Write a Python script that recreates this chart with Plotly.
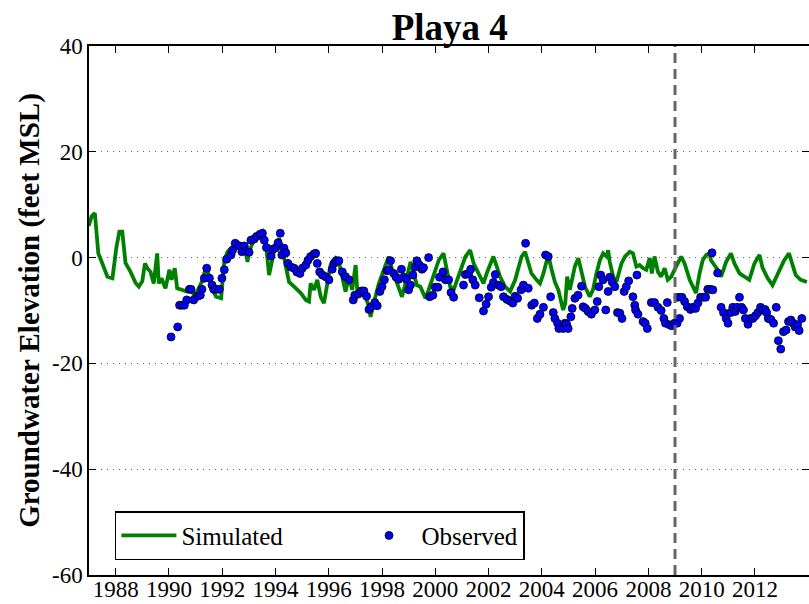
import plotly.graph_objects as go

# Simulated groundwater elevation (decimal year, feet MSL)
SIM_YEAR = [
    1986.99, 1987.10, 1987.22, 1987.35, 1987.50, 1987.69, 1987.88, 1988.03, 1988.14, 1988.25,
    1988.37, 1988.56, 1988.75, 1988.87, 1989.00, 1989.10, 1989.19, 1989.31, 1989.43, 1989.56,
    1989.62, 1989.72, 1989.87, 1990.02, 1990.10, 1990.22, 1990.31, 1990.50, 1990.68, 1990.87,
    1990.95, 1991.05, 1991.27, 1991.39, 1991.52, 1991.64, 1991.77, 1991.96, 1992.01, 1992.08,
    1992.20, 1992.33, 1992.52, 1992.64, 1992.83, 1992.95, 1993.01, 1993.14, 1993.27, 1993.39,
    1993.51, 1993.64, 1993.76, 1993.89, 1994.01, 1994.14, 1994.26, 1994.39, 1994.51, 1994.70,
    1994.95, 1995.14, 1995.26, 1995.32, 1995.45, 1995.57, 1995.70, 1995.82, 1995.95, 1996.07,
    1996.16, 1996.26, 1996.38, 1996.51, 1996.63, 1996.76, 1996.88, 1997.01, 1997.07, 1997.20,
    1997.38, 1997.51, 1997.57, 1997.69, 1997.88, 1998.07, 1998.25, 1998.38, 1998.51, 1998.63,
    1998.75, 1998.94, 1999.07, 1999.19, 1999.31, 1999.44, 1999.63, 1999.75, 1999.94, 2000.13,
    2000.31, 2000.44, 2000.56, 2000.69, 2000.87, 2001.13, 2001.31, 2001.44, 2001.56, 2001.69,
    2001.81, 2001.93, 2002.06, 2002.18, 2002.31, 2002.43, 2002.62, 2002.81, 2003.00, 2003.12,
    2003.24, 2003.37, 2003.49, 2003.61, 2003.80, 2003.93, 2004.06, 2004.18, 2004.24, 2004.37,
    2004.49, 2004.62, 2004.80, 2004.88, 2004.95, 2005.05, 2005.24, 2005.37, 2005.49, 2005.62,
    2005.80, 2005.92, 2006.05, 2006.18, 2006.30, 2006.43, 2006.49, 2006.55, 2006.68, 2006.80,
    2006.99, 2007.12, 2007.30, 2007.42, 2007.55, 2007.67, 2007.80, 2007.92, 2008.05, 2008.13,
    2008.23, 2008.36, 2008.48, 2008.61, 2008.73, 2008.86, 2009.04, 2009.23, 2009.36, 2009.55,
    2009.73, 2009.79, 2009.92, 2010.04, 2010.17, 2010.29, 2010.35, 2010.48, 2010.60, 2010.73,
    2010.92, 2011.10, 2011.23, 2011.42, 2011.60, 2011.79, 2011.98, 2012.17, 2012.29, 2012.48,
    2012.66, 2012.85, 2013.10, 2013.28, 2013.41, 2013.53, 2013.72, 2013.95,
]
SIM_VALUE = [
    6.0, 7.8, 8.4, 0.8, -1.1, -3.6, -3.9, 2.0, 4.9, 4.9,
    -1.0, -2.7, -4.8, -5.5, -4.5, -1.1, -2.0, -2.7, -4.9, 0.8,
    -4.9, -3.9, -5.8, -2.3, -4.2, -2.0, -5.8, -6.1, -6.4, -6.1,
    -7.4, -6.5, -4.2, -1.7, -3.6, -6.1, -7.4, -7.7, -3.6, -0.5,
    1.1, 1.8, 2.7, 2.7, 2.4, -0.8, 1.1, 2.7, 3.6, 4.3,
    4.9, 2.7, -3.3, 0.2, 2.7, 3.6, 1.8, -1.7, -4.6, -5.5,
    -6.7, -8.0, -8.3, -4.9, -6.1, -4.2, -7.4, -8.6, -4.9, -1.4,
    -0.6, -0.1, -0.8, -4.2, -6.4, -3.6, -6.1, -1.4, -6.1, -6.7,
    -7.4, -9.3, -11.2, -8.6, -4.9, -2.3, 0.2, -2.3, -4.2, -6.1,
    -7.4, -3.6, -0.8, -3.0, -5.2, -5.5, -7.7, -6.1, -3.0, -0.5,
    0.8, -3.0, -5.5, -6.1, -3.6, 0.2, 1.4, -1.1, -2.3, -3.6,
    -4.9, -3.0, -1.1, 0.2, -1.7, -3.6, -5.5, -6.4, -4.2, -1.7,
    0.2, 1.1, -1.1, -3.0, -4.2, -4.9, -3.0, -0.5, 0.5, -2.3,
    -4.6, -6.1, -9.9, -8.6, -3.6, -6.1, -1.7, -0.1, -3.0, -5.5,
    -7.4, -6.1, -3.0, -0.5, 0.8, 0.2, 1.4, -0.8, -3.6, -4.6,
    -1.1, 0.2, 1.1, 0.8, -1.7, -1.4, -2.0, -2.3, -0.1, -3.0,
    0.2, -2.7, -3.6, -2.0, -4.2, -3.6, -1.7, 0.2, -1.1, -4.2,
    -6.1, -6.7, -3.0, -0.5, 0.5, 0.8, -0.5, -1.4, -2.3, -3.6,
    -0.8, 0.8, -1.1, -3.0, -3.6, -4.2, -1.1, 0.5, -2.0, -3.9,
    -5.2, -3.0, -0.5, 0.8, -1.1, -3.3, -4.2, -4.6,
]

# Observed groundwater elevation (decimal year, feet MSL)
OBS_YEAR = [
    1990.08, 1990.33, 1990.40, 1990.48, 1990.58, 1990.67, 1990.77, 1990.83, 1990.93, 1991.08,
    1991.18, 1991.24, 1991.33, 1991.42, 1991.52, 1991.62, 1991.68, 1991.77, 1991.89, 1991.99,
    1992.08, 1992.17, 1992.33, 1992.39, 1992.49, 1992.64, 1992.74, 1992.83, 1992.91, 1993.01,
    1993.08, 1993.20, 1993.29, 1993.42, 1993.51, 1993.58, 1993.66, 1993.83, 1993.89, 1994.01,
    1994.10, 1994.18, 1994.24, 1994.32, 1994.39, 1994.47, 1994.58, 1994.70, 1994.80, 1994.92,
    1995.01, 1995.14, 1995.22, 1995.32, 1995.45, 1995.51, 1995.57, 1995.66, 1995.76, 1995.88,
    1996.01, 1996.13, 1996.20, 1996.28, 1996.38, 1996.51, 1996.63, 1996.76, 1996.92, 1996.98,
    1997.11, 1997.23, 1997.32, 1997.42, 1997.51, 1997.59, 1997.73, 1997.82, 1997.92, 1998.00,
    1998.09, 1998.19, 1998.25, 1998.32, 1998.44, 1998.53, 1998.63, 1998.73, 1998.82, 1998.92,
    1999.00, 1999.07, 1999.16, 1999.25, 1999.31, 1999.40, 1999.50, 1999.56, 1999.75, 1999.79,
    1999.91, 2000.00, 2000.10, 2000.16, 2000.29, 2000.38, 2000.50, 2000.59, 2000.69, 2001.06,
    2001.13, 2001.25, 2001.33, 2001.41, 2001.50, 2001.65, 2001.81, 2001.91, 2002.00, 2002.10,
    2002.18, 2002.25, 2002.37, 2002.47, 2002.56, 2002.69, 2002.81, 2002.91, 2003.00, 2003.09,
    2003.22, 2003.31, 2003.39, 2003.49, 2003.62, 2003.72, 2003.83, 2003.93, 2004.06, 2004.14,
    2004.24, 2004.33, 2004.43, 2004.49, 2004.59, 2004.64, 2004.80, 2004.87, 2004.93, 2004.99,
    2005.09, 2005.14, 2005.24, 2005.36, 2005.49, 2005.55, 2005.64, 2005.74, 2005.86, 2005.99,
    2006.08, 2006.14, 2006.21, 2006.30, 2006.40, 2006.49, 2006.55, 2006.64, 2006.74, 2006.84,
    2006.93, 2007.01, 2007.09, 2007.17, 2007.26, 2007.42, 2007.49, 2007.52, 2007.57, 2007.61,
    2007.80, 2007.88, 2007.96, 2008.11, 2008.23, 2008.36, 2008.48, 2008.58, 2008.64, 2008.71,
    2008.79, 2008.88, 2008.98, 2009.08, 2009.11, 2009.17, 2009.26, 2009.36, 2009.46, 2009.58,
    2009.67, 2009.77, 2009.86, 2009.96, 2010.06, 2010.15, 2010.23, 2010.32, 2010.39, 2010.42,
    2010.60, 2010.73, 2010.82, 2010.92, 2010.99, 2011.09, 2011.17, 2011.26, 2011.33, 2011.42,
    2011.50, 2011.57, 2011.64, 2011.74, 2011.84, 2011.92, 2012.02, 2012.11, 2012.21, 2012.29,
    2012.38, 2012.44, 2012.50, 2012.60, 2012.70, 2012.80, 2012.88, 2012.97, 2013.07, 2013.17,
    2013.26, 2013.35, 2013.44, 2013.51, 2013.60, 2013.66, 2013.76,
]
OBS_VALUE = [
    -15.0, -13.1, -9.0, -9.0, -9.0, -8.0, -6.0, -6.0, -8.0, -7.3,
    -7.1, -6.0, -3.9, -2.0, -3.9, -5.2, -6.0, -6.0, -6.0, -3.9,
    -2.3, -0.3, 0.5, 1.4, 2.7, 2.2, 1.1, 2.2, 1.2, 1.0,
    3.3, 3.5, 4.0, 4.4, 4.6, 3.3, 1.9, 0.3, 1.6, 1.8,
    2.8, 4.6, 0.5, 1.8, 0.9, -1.1, -1.8, -2.0, -2.7, -3.0,
    -2.0, -1.4, -0.5, 0.2, 0.7, 0.8, -1.1, -2.7, -3.3, -3.6,
    -4.2, -2.2, -1.1, -0.6, -0.6, -2.7, -3.6, -4.2, -8.0, -7.1,
    -6.9, -6.3, -6.3, -7.3, -9.8, -9.3, -8.5, -9.1, -6.4, -5.5,
    -4.2, -2.5, -2.3, -0.6, -3.0, -3.7, -4.1, -2.2, -3.7, -4.1,
    -6.1, -5.2, -3.3, -1.8, -0.6, -1.4, -2.2, -1.9, 0.0, -7.4,
    -7.1, -5.6, -5.6, -3.7, -2.7, -4.2, -4.2, -6.6, -7.5, -5.2,
    -3.2, -3.1, -2.2, -4.2, -5.2, -7.6, -10.1, -8.8, -7.4, -5.6,
    -4.7, -3.2, -5.2, -5.5, -7.4, -7.9, -8.2, -8.6, -7.3, -7.7,
    -6.1, -5.2, 2.7, -5.8, -9.0, -8.6, -11.5, -10.7, -9.4, 0.5,
    0.2, -7.4, -10.4, -11.5, -12.4, -13.4, -13.4, -12.4, -12.6, -13.4,
    -11.2, -9.6, -7.7, -7.1, -5.4, -9.3, -9.6, -10.2, -10.7, -9.9,
    -8.3, -5.5, -3.3, -4.2, -9.9, -6.4, -3.7, -4.6, -5.5, -10.4,
    -10.5, -11.5, -6.4, -5.5, -4.4, -7.4, -9.0, -9.9, -3.3, -10.7,
    -12.1, -12.4, -13.4, -8.5, -8.5, -9.4, -10.0, -11.5, -12.4, -8.5,
    -12.7, -12.9, -12.4, -12.4, -7.5, -11.5, -7.5, -8.3, -9.3, -9.8,
    -9.4, -9.6, -8.6, -7.5, -7.5, -7.5, -6.0, -6.0, 0.9, -6.1,
    -2.9, -9.4, -10.4, -11.5, -12.4, -10.4, -9.4, -10.2, -9.4, -7.5,
    -9.4, -9.9, -11.5, -12.6, -11.5, -11.5, -11.0, -10.4, -9.4, -9.9,
    -9.8, -10.4, -11.5, -11.7, -12.4, -9.4, -15.7, -17.3, -14.0, -13.7,
    -12.1, -11.8, -12.4, -13.1, -12.7, -13.8, -11.5,
]

X_TICKS = [1988, 1990, 1992, 1994, 1996, 1998, 2000, 2002, 2004, 2006, 2008, 2010, 2012]
Y_TICKS = [40, 20, 0, -20, -40, -60]
Y_TICK_TEXT = ["40", "20", "0", "-20", "-40", "-60"]
SPLIT_YEAR = 2009.0

FONT = "Liberation Serif"

fig = go.Figure()
fig.add_trace(go.Scatter(
    x=SIM_YEAR, y=SIM_VALUE, mode="lines",
    name="Simulated" + "\u00a0" * 11,
    line=dict(color="#008000", width=3.8),
))
fig.add_trace(go.Scatter(
    x=OBS_YEAR, y=OBS_VALUE, mode="markers", name="Observed",
    marker=dict(color="#0000ff", size=8, line=dict(color="black", width=0.8)),
))
fig.add_vline(x=SPLIT_YEAR, line=dict(color="#666666", width=3, dash="10px,6px"))

axis_common = dict(
    showline=True, linecolor="black", linewidth=1.5, mirror="ticks",
    ticks="inside", ticklen=7, tickwidth=1, tickcolor="black",
    zeroline=False, automargin=False,
    tickfont=dict(family=FONT, size=23, color="black"),
)
fig.update_xaxes(
    range=[1987.0, 2014.03], tickvals=X_TICKS, showgrid=False,
    ticklabelstandoff=-7, **axis_common,
)
fig.update_yaxes(
    range=[-60, 40], tickvals=Y_TICKS, ticktext=Y_TICK_TEXT,
    showgrid=True, gridcolor="#666666", griddash="1px,5px", gridwidth=1,
    title=dict(text="<b>Groundwater Elevation (feet MSL)</b>",
               font=dict(family=FONT, size=29, color="black"), standoff=4),
    **axis_common,
)
fig.update_layout(
    width=809, height=604,
    margin=dict(l=89, r=0, t=46, b=29),
    paper_bgcolor="white", plot_bgcolor="white",
    title=dict(text="<b>Playa 4</b>", x=0.556, xanchor="center",
               y=0.955, yanchor="middle",
               font=dict(family=FONT, size=37, color="black")),
    legend=dict(
        orientation="h", x=0.036, y=0.028, xanchor="left", yanchor="bottom",
        bgcolor="white", bordercolor="black", borderwidth=1.5,
        font=dict(family=FONT, size=25, color="black"),
        itemwidth=55,
    ),
)

# drop the default 8px page margin so the figure sits at the window's corner
fig.write_html("out.html", config={"displayModeBar": False},
               post_script="document.body.style.margin='0';")
